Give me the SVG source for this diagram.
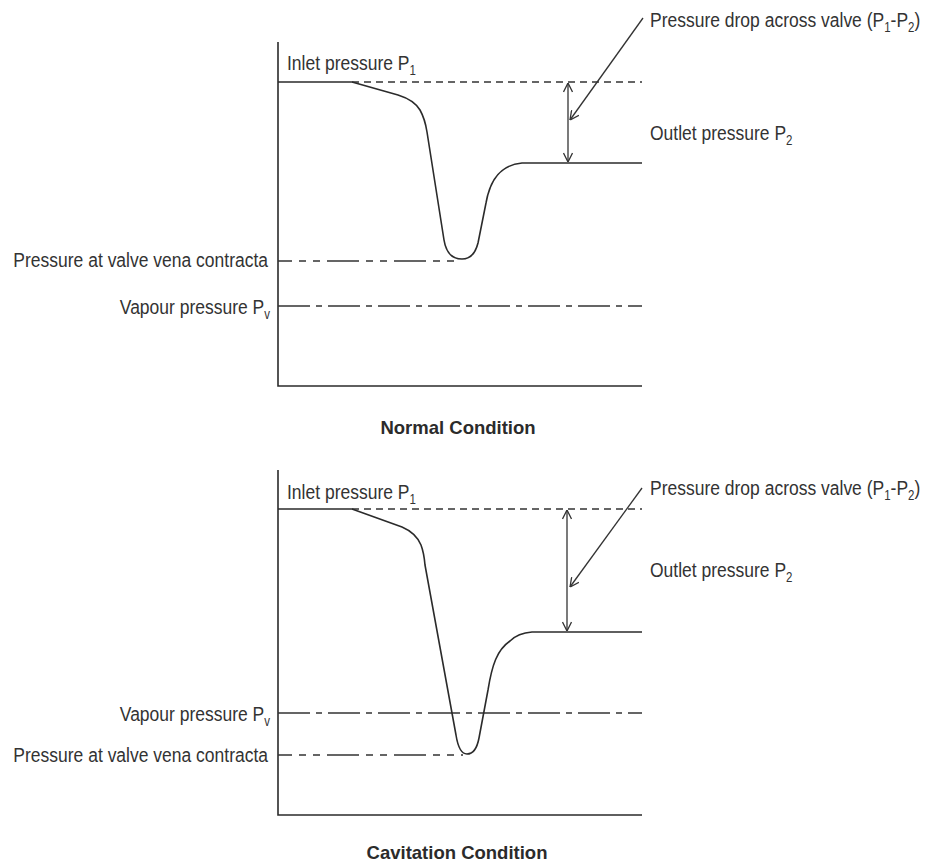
<svg xmlns="http://www.w3.org/2000/svg" width="925" height="865" viewBox="0 0 925 865">
  <style>
    .axis { fill: none; stroke: #2b2b2b; stroke-width: 1.6; }
    .curve { fill: none; stroke: #2b2b2b; stroke-width: 1.6; stroke-linejoin: round; }
    .inlet { fill: none; stroke: #333; stroke-width: 1.4; stroke-dasharray: 7 5; }
    .vena { fill: none; stroke: #333; stroke-width: 1.5; stroke-dasharray: 32 7 7 7 7 7; }
    .vapour { fill: none; stroke: #333; stroke-width: 1.5; stroke-dasharray: 32 6 6 6; }
    .dim { fill: none; stroke: #333; stroke-width: 1.3; }
    .lbl { font-family: "Liberation Sans", Arial, sans-serif; font-size: 17.5px; fill: #333; }
    .sub { font-size: 11.5px; }
    .title { font-family: "Liberation Sans", Arial, sans-serif; font-size: 18.5px; font-weight: bold; fill: #2b2b2b; text-anchor: middle; }
  </style>
  <defs>
    <marker id="open-head" viewBox="0 0 10 10" refX="10" refY="5" markerWidth="10" markerHeight="10" markerUnits="userSpaceOnUse" orient="auto-start-reverse">
      <path d="M1,0.5 L10,5 L1,9.5" fill="none" stroke="#333" stroke-width="1.3"/>
    </marker>
  </defs>

  <rect width="925" height="865" fill="#ffffff"/>

  <!-- Normal condition chart -->
  <g id="normal-chart">
    <path class="axis" d="M278,42 V386 H642"/>
    <line class="inlet" x1="352" y1="82" x2="642" y2="82"/>
    <line class="vena" x1="278" y1="261" x2="461" y2="261" stroke-dashoffset="18"/>
    <line class="vapour" x1="278" y1="306" x2="642" y2="306"/>
    <path class="curve" d="M278,82 H352 L398,95 Q414,100 420,110 Q425,119 427,132 L444,240 Q447,259 462,259 Q474,259 478,243 L486,203 C490,180 500,165 522,163 H642"/>
    <text class="lbl" transform="translate(287 70) scale(1 1.2)">Inlet pressure P<tspan class="sub" dy="4">1</tspan></text>
    <text class="lbl" transform="translate(268 267) scale(1 1.2)" text-anchor="end">Pressure at valve vena contracta</text>
    <text class="lbl" transform="translate(270 314) scale(1 1.2)" text-anchor="end">Vapour pressure P<tspan class="sub" dy="4">v</tspan></text>
    <text class="lbl" transform="translate(650 27) scale(1 1.2)">Pressure drop across valve (P<tspan class="sub" dy="4">1</tspan><tspan dy="-4">-P</tspan><tspan class="sub" dy="4">2</tspan><tspan dy="-4">)</tspan></text>
    <text class="lbl" transform="translate(650 140) scale(1 1.2)">Outlet pressure P<tspan class="sub" dy="4">2</tspan></text>
    <text class="title" x="458" y="434">Normal Condition</text>
  </g>

  <!-- Cavitation condition chart -->
  <g id="cavitation-chart">
    <path class="axis" d="M278,470 V815 H642"/>
    <line class="inlet" x1="352" y1="509" x2="642" y2="509"/>
    <line class="vapour" x1="278" y1="713" x2="642" y2="713"/>
    <line class="vena" x1="278" y1="755" x2="463" y2="755" stroke-dashoffset="18"/>
    <path class="curve" d="M278,509 H352 L402,527 Q416,533 421,545 Q424,553 425,565 L456,735 Q459,754 467,754 Q476,754 479,738 L488,690 C492,665 497,650 510,641 Q518,633 532,632 H642"/>
    <text class="lbl" transform="translate(287 499) scale(1 1.2)">Inlet pressure P<tspan class="sub" dy="4">1</tspan></text>
    <text class="lbl" transform="translate(270 721) scale(1 1.2)" text-anchor="end">Vapour pressure P<tspan class="sub" dy="4">v</tspan></text>
    <text class="lbl" transform="translate(268 762) scale(1 1.2)" text-anchor="end">Pressure at valve vena contracta</text>
    <text class="lbl" transform="translate(650 495) scale(1 1.2)">Pressure drop across valve (P<tspan class="sub" dy="4">1</tspan><tspan dy="-4">-P</tspan><tspan class="sub" dy="4">2</tspan><tspan dy="-4">)</tspan></text>
    <text class="lbl" transform="translate(650 577) scale(1 1.2)">Outlet pressure P<tspan class="sub" dy="4">2</tspan></text>
    <text class="title" x="457" y="859">Cavitation Condition</text>
  </g>

  <!-- Dimension arrows and leader lines -->
  <g id="connectors">
    <line class="dim" x1="568" y1="83" x2="568" y2="162" marker-start="url(#open-head)" marker-end="url(#open-head)"/>
    <line class="dim" x1="643" y1="18" x2="570" y2="120" marker-end="url(#open-head)"/>
    <line class="dim" x1="567" y1="510" x2="567" y2="631" marker-start="url(#open-head)" marker-end="url(#open-head)"/>
    <line class="dim" x1="642" y1="488" x2="570" y2="587" marker-end="url(#open-head)"/>
  </g>
</svg>
